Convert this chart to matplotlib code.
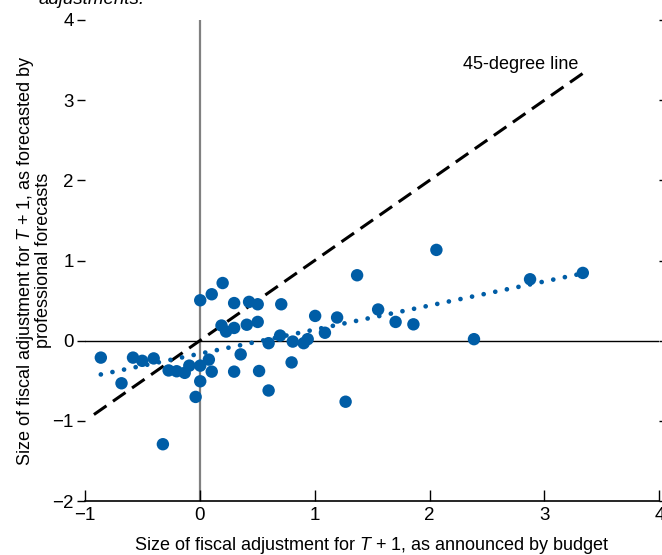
import matplotlib
matplotlib.use("Agg")
import matplotlib.pyplot as plt

plt.rcParams['font.family'] = ['Liberation Sans Narrow', 'Liberation Sans', 'DejaVu Sans']
plt.rcParams['mathtext.fontset'] = 'custom'
plt.rcParams['mathtext.it'] = 'Liberation Sans:italic'
plt.rcParams['mathtext.rm'] = 'Liberation Sans'

# ----------- Données -----------
budget = [-0.86, -0.68, -0.58, -0.50, -0.40, -0.32, -0.27, -0.20, -0.13, -0.09,
          -0.035, 0.005, 0.005, 0.005, 0.08, 0.105, 0.105, 0.20, 0.19, 0.23,
          0.30, 0.30, 0.30, 0.357, 0.41, 0.43, 0.505, 0.505, 0.517, 0.60,
          0.60, 0.71, 0.70, 0.80, 0.81, 0.905, 0.94, 1.005, 1.09, 1.196,
          1.27, 1.37, 1.553, 1.705, 1.86, 2.06, 2.387, 2.875, 3.334]
prevision = [-0.21, -0.53, -0.21, -0.25, -0.22, -1.29, -0.37, -0.38, -0.40, -0.31,
             -0.70, 0.505, -0.31, -0.505, -0.235, 0.58, -0.385, 0.72, 0.19, 0.115,
             0.47, 0.16, -0.385, -0.17, 0.20, 0.485, 0.455, 0.235, -0.377, -0.03,
             -0.62, 0.455, 0.065, -0.27, -0.01, -0.03, 0.02, 0.31, 0.10, 0.29,
             -0.76, 0.817, 0.39, 0.235, 0.205, 1.133, 0.02, 0.767, 0.846]

# droite à 45 degrés et droite de régression (extrémités)
ligne45_x = [-0.92, 3.34]
ligne45_y = [-0.92, 3.34]
regression_x = [-0.86, 3.30]
regression_y = [-0.42, 0.83]

x_ticks = [-1, 0, 1, 2, 3, 4]
y_ticks = [-2, -1, 0, 1, 2, 3, 4]

bleu = '#005DA6'

fig = plt.figure(figsize=(6.62, 5.55), dpi=100)
ax = fig.add_axes([0.128, 0.097, 0.868, 0.867])

ax.axvline(0, color='#808080', lw=1.6, zorder=1)
ax.axhline(0, color='black', lw=1.0, zorder=1)

ax.plot(ligne45_x, ligne45_y, color='black', lw=2.2, dashes=(5, 2.6), zorder=2)
ax.plot(regression_x, regression_y, color=bleu, lw=3.4, linestyle=(0, (0.01, 2.5)),
        dash_capstyle='round', zorder=2)
ax.scatter(budget, prevision, s=80, color=bleu, edgecolors='none', zorder=3)

ax.text(2.79, 3.44, "45-degree line", fontsize=13, ha='center', va='center')

ax.set_xlim(-1, 4)
ax.set_ylim(-2, 4)
ax.set_xticks(x_ticks)
ax.set_xticklabels([('\u2212' + str(-v)) if v < 0 else str(v) for v in x_ticks])
ax.set_yticks(y_ticks)
ax.set_yticklabels([('\u2212' + str(-v)) if v < 0 else str(v) for v in y_ticks])

for s in ['top', 'left', 'right']:
    ax.spines[s].set_visible(False)
ax.spines['bottom'].set_linewidth(1.2)

ax.tick_params(axis='x', direction='in', length=8, width=1, labelsize=13.5, pad=4)
ax.tick_params(axis='y', direction='out', length=6, width=1, labelsize=13.5, pad=2,
               right=True)
for t in ax.yaxis.get_major_ticks():
    t.tick2line.set_markersize(5)

ax.set_xlabel(r"Size of fiscal adjustment for $T$ + 1, as announced by budget",
              fontsize=13, labelpad=8)
ax.set_ylabel("Size of fiscal adjustment for $T$ + 1, as forecasted by\nprofessional forecasts",
              fontsize=13, labelpad=0, linespacing=0.95)

fig.text(0.058, 1.0, "adjustments.", fontsize=13.5, style='italic', va='center', ha='left')

fig.savefig("out.png", dpi=100)
